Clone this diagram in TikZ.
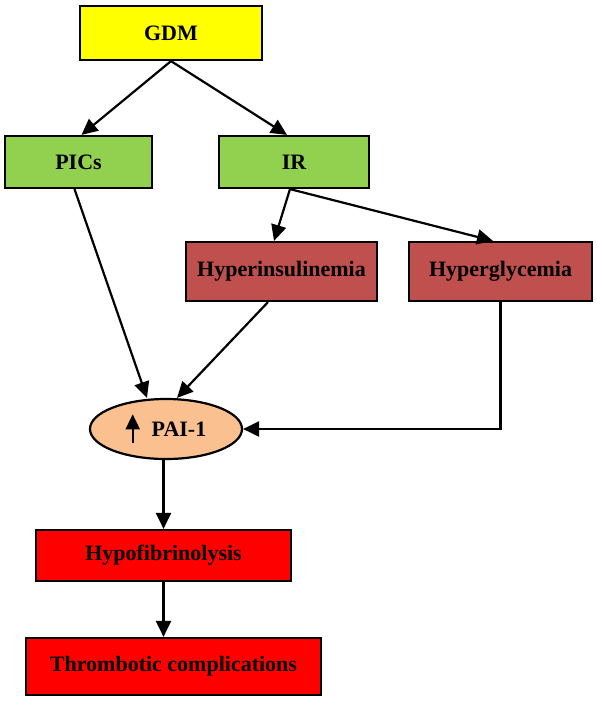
\documentclass[tikz,border=0pt]{standalone}
\usepackage{fontspec}
\setmainfont{Liberation Serif}
\usepackage{xcolor}
\definecolor{jaune}{rgb}{1,1,0}
\definecolor{vertclair}{RGB}{146,208,80}
\definecolor{brique}{RGB}{192,80,77}
\definecolor{peche}{RGB}{250,192,144}
\definecolor{rouge}{rgb}{1,0,0}
\usepackage{tikz}
\usetikzlibrary{arrows.meta,positioning,shapes.geometric}
\tikzset{
  boite/.style={rectangle, draw=black, line width=2.2pt, inner sep=2pt,
    font=\fontsize{22}{26}\selectfont\bfseries},
  progjaune/.style={boite, fill=jaune, minimum width=182pt, minimum height=54pt},
  progvert/.style={boite, fill=vertclair, minimum height=52pt},
  progbrique/.style={boite, fill=brique, minimum height=59pt},
  progrouge/.style={boite, fill=rouge},
  paiell/.style={ellipse, draw=black, line width=2.2pt, fill=peche, inner sep=1pt,
    minimum width=152pt, minimum height=60pt, font=\fontsize{22}{26}\selectfont\bfseries},
  line/.style={draw, line width=2.2pt, -{Triangle[length=16pt,width=15pt]}}
}
% small up arrow in front of PAI-1
\newcommand{\flechehaut}{\smash{\tikz[baseline=0pt]\draw[line width=1.8pt,-{Triangle[length=15pt,width=14pt]}] (0pt,-7pt) -- (0pt,22pt);}}

\begin{document}
\begin{tikzpicture}[x=1pt,y=1pt]
    \useasboundingbox (0,0) rectangle (597,-702);

    \node[progjaune] (gdm) at (171,-33) {GDM};
    \node[progvert, minimum width=147pt, below of=gdm, node distance=129pt, xshift=-92.5pt] (pics) {PICs};
    \node[progvert, minimum width=150pt, right of=pics, node distance=215.5pt] (ir) {IR};

    \node[progbrique, minimum width=191pt, below of=ir, node distance=109.5pt, xshift=-12.5pt] (hins) {Hyperinsulinemia};
    \node[progbrique, minimum width=183pt, right of=hins, node distance=219pt] (hgly) {Hyperglycemia};

    \node[paiell, below of=pics, node distance=267pt, xshift=87.5pt] (pai) {\flechehaut\hspace{12pt}PAI-1};

    \node[progrouge, minimum width=255pt, minimum height=51pt, below of=pai, node distance=126.5pt, xshift=-2.5pt] (hypo) {Hypofibrinolysis};
    \node[progrouge, minimum width=295pt, minimum height=57pt, below of=hypo, node distance=111pt, xshift=10pt] (throm) {Thrombotic complications};

    \begin{scope} [every path/.style=line]
      \path (gdm.south) -- ([xshift=3pt]pics.north);
      \path (gdm.south) -- ([xshift=-7pt]ir.north);

      \path ([xshift=-4pt]pics.south) -- ([xshift=-19pt]pai.north);
      \path ([xshift=-4pt]ir.south) -- ([xshift=-7.5pt]hins.north);
      \path ([xshift=-4pt]ir.south) -- ([xshift=-7.5pt]hgly.north);

      \path ([xshift=-13.5pt]hins.south) -- ([xshift=11pt]pai.north);
      \path (hgly.south) |- (pai.east);

      \path (hypo.north |- pai.south) -- (hypo.north);
      \path (hypo.south) -- (hypo.south |- throm.north);
    \end{scope}

\end{tikzpicture}
\end{document}
